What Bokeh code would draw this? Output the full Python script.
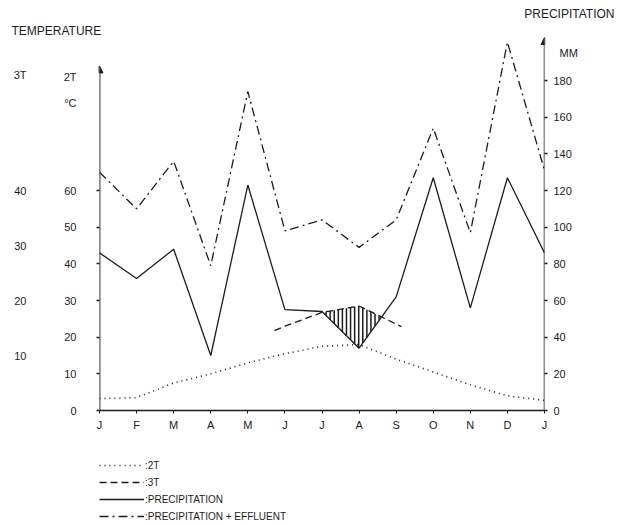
import numpy as np
from bokeh.plotting import figure
from bokeh.layouts import column
from bokeh.models import (Range1d, LinearAxis, FixedTicker, Arrow, NormalHead,
                          Title, Legend, LegendItem)
from bokeh.embed import file_html
from bokeh.resources import INLINE

# ---- data ----
month_labels = ["J", "F", "M", "A", "M", "J", "J", "A", "S", "O", "N", "D", "J"]
month_pos = list(range(13))
two_t_mm = [6.5, 7, 15, 20, 26, 31, 35, 36, 28, 21, 14, 8, 5.5]          # 2T (dotted), in mm units
precip_mm = [86, 72, 88, 30, 123, 55, 54, 34, 62, 127, 56, 127, 86]      # precipitation
effluent_mm = [130, 110, 136, 79, 174, 98, 104, 89, 104, 154, 97, 201, 131]  # precipitation + effluent
three_t_pos = [4.72, 5, 6, 7, 8.14]
three_t_mm = [43.6, 46, 53.5, 57, 45.8]                                   # 3T (dashed), in mm units

mm_ticks = [0, 20, 40, 60, 80, 100, 120, 140, 160, 180]
t2_ticks = [0, 10, 20, 30, 40, 50, 60]
t3_ticks = [10, 20, 30, 40]
mm_unit_pos, mm_unit_label = 195, "\u00a0\u00a0MM"
t2_head = {84: "°C", 91: "2T"}
t3_head = {61: "3T"}
legend_labels = [":2T", ":3T", ":PRECIPITATION", ":PRECIPITATION + EFFLUENT"]

FONT = "Liberation Sans"
INK = "#1c1c1c"
YMAX = 203.5
W = 616
FL, FT, FW, FH, FB = 98, 37, 445, 373, 30
LEG_H = 83

STYLES = {
    "2T": dict(line_color=INK, line_width=1.6, line_dash="1 4"),
    "3T": dict(line_color=INK, line_width=1.3, line_dash="7 4"),
    "P": dict(line_color=INK, line_width=1.3),
    "PE": dict(line_color=INK, line_width=1.3, line_dash="9 4 2 4"),
}

p = figure(frame_width=FW, frame_height=FH, x_range=Range1d(0, 12), y_range=Range1d(0, YMAX),
           output_backend="svg", toolbar_location=None, y_axis_location=None, title=None,
           min_border_left=FL, min_border_right=W - FL - FW,
           min_border_top=FT, min_border_bottom=FB)
p.outline_line_color = None
p.grid.visible = False
p.background_fill_color = "white"
p.extra_y_ranges = {"t2": Range1d(0, YMAX / 2), "t3": Range1d(0, YMAX / 3)}

xa = p.xaxis[0]
xa.ticker = FixedTicker(ticks=month_pos)
xa.major_label_overrides = {i: m for i, m in zip(month_pos, month_labels)}
xa.minor_tick_line_color = None
xa.major_tick_in = 0
xa.major_tick_out = 3
xa.axis_line_width = 1.5
xa.axis_line_color = INK
xa.major_tick_line_color = INK
xa.major_label_standoff = 5
xa.major_label_text_font = FONT
xa.major_label_text_font_size = "11px"
xa.major_label_text_color = INK

def style_axis(ax, standoff, ticks_visible=True):
    ax.major_tick_in = 0
    ax.major_tick_out = 0
    ax.major_tick_line_color = None
    ax.minor_tick_in = 0
    ax.minor_tick_out = 3 if ticks_visible else 0
    ax.minor_tick_line_color = INK if ticks_visible else None
    ax.minor_tick_line_width = 1.5
    ax.axis_line_color = None
    ax.major_label_standoff = standoff
    ax.major_label_text_font = FONT
    ax.major_label_text_font_size = "11px"
    ax.major_label_text_color = INK

ax2 = LinearAxis(y_range_name="t2",
                 ticker=FixedTicker(ticks=t2_ticks + list(t2_head), minor_ticks=t2_ticks))
ax2.major_label_overrides = dict(t2_head)
style_axis(ax2, 20)
p.add_layout(ax2, "left")

ax3 = LinearAxis(y_range_name="t3",
                 ticker=FixedTicker(ticks=t3_ticks + list(t3_head), minor_ticks=[]))
ax3.major_label_overrides = dict(t3_head)
style_axis(ax3, 34, ticks_visible=False)
p.add_layout(ax3, "left")

axr = LinearAxis(ticker=FixedTicker(ticks=mm_ticks + [mm_unit_pos], minor_ticks=mm_ticks))
axr.major_label_overrides = {mm_unit_pos: mm_unit_label}
style_axis(axr, 6)
p.add_layout(axr, "right")

# headers
p.add_layout(Title(text="TEMPERATURE", align="left", offset=-88, standoff=0,
                   text_font=FONT, text_font_size="12px", text_font_style="normal",
                   text_color=INK), "above")
p.add_layout(Title(text="PRECIPITATION", align="right", offset=-70, standoff=2,
                   text_font=FONT, text_font_size="12px", text_font_style="normal",
                   text_color=INK), "above")

# axis lines with arrows
p.add_layout(Arrow(x_start=0, y_start=0, x_end=0, y_end=188, line_width=1.8, line_color=INK,
                   end=NormalHead(size=7, fill_color=INK, line_color=INK)))
p.add_layout(Arrow(x_start=12, y_start=0, x_end=12, y_end=YMAX, line_width=1.5, line_color=INK,
                   end=NormalHead(size=7, fill_color=INK, line_color=INK)))

# hatching where precipitation falls below 3T
xs = np.arange(6.0, 8.15, 0.11)
top = np.interp(xs, three_t_pos, three_t_mm)
bot = np.interp(xs, month_pos, precip_mm)
m = bot < top
p.segment(x0=xs[m], y0=bot[m], x1=xs[m], y1=top[m], line_color=INK, line_width=1.5)

p.line(month_pos, two_t_mm, **STYLES["2T"])
p.line(three_t_pos, three_t_mm, **STYLES["3T"])
p.line(month_pos, precip_mm, **STYLES["P"])
p.line(month_pos, effluent_mm, **STYLES["PE"])

# legend strip below the chart (its own small canvas so it is not clipped)
lf = figure(width=W, height=LEG_H, x_range=Range1d(0, 1), y_range=Range1d(0, 1),
            output_backend="svg", toolbar_location=None, title=None,
            x_axis_location=None, y_axis_location=None,
            min_border_left=99, min_border_right=0, min_border_top=0, min_border_bottom=0)
lf.outline_line_color = None
lf.grid.visible = False
# proxy renderers placed outside the visible range: only their legend samples show
leg_r = [lf.line([-2, -1], [-2, -2], **STYLES[k]) for k in ["2T", "3T", "P", "PE"]]
legend = Legend(items=[LegendItem(label=t, renderers=[r]) for t, r in zip(legend_labels, leg_r)],
                location="bottom_left", orientation="vertical", glyph_width=45, glyph_height=14,
                spacing=3, label_standoff=1, padding=1, margin=0,
                border_line_color=None, background_fill_alpha=0,
                label_text_font=FONT, label_text_font_size="10px", label_text_color=INK)
lf.add_layout(legend)

layout = column(p, lf, spacing=0)
open("out.html", "w").write(file_html(layout, INLINE))
